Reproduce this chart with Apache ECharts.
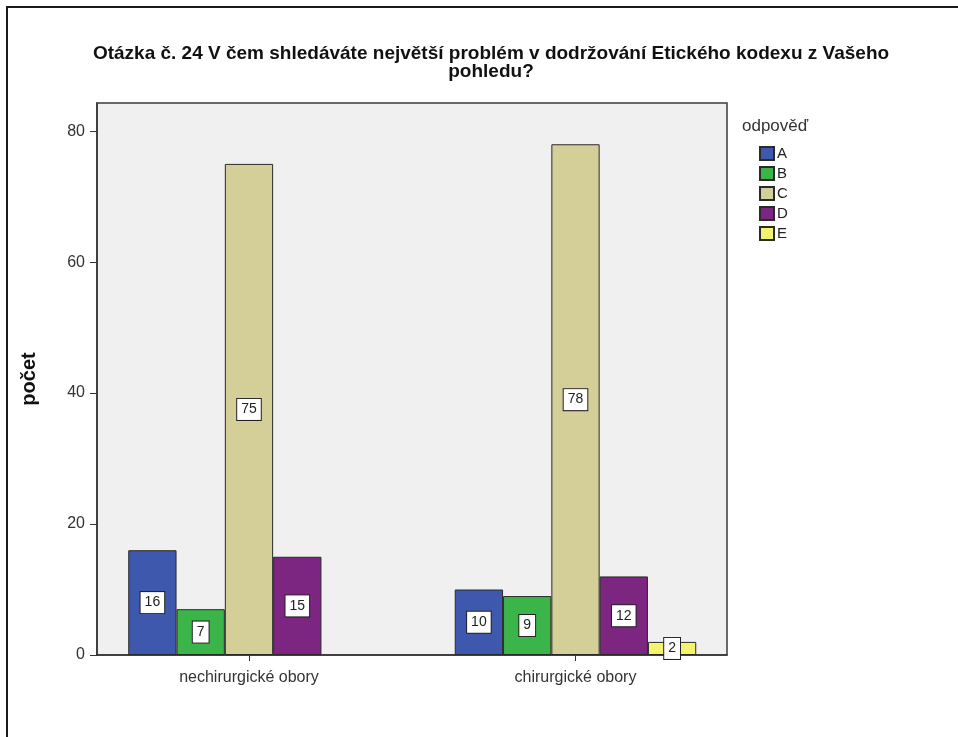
<!DOCTYPE html>
<html>
<head>
<meta charset="utf-8">
<script src="https://cdn.jsdelivr.net/npm/echarts@6/dist/echarts.min.js"></script>
<style>
  html, body { margin: 0; padding: 0; background: #fff; }
  #chart { width: 958px; height: 737px; }
</style>
</head>
<body>
<div id="chart"></div>
<script>
// Answer counts per field group (question 24)
const categories = ['nechirurgické obory', 'chirurgické obory'];
const answers = ['A', 'B', 'C', 'D', 'E'];
const countA = [16, 10];
const countB = [7, 9];
const countC = [75, 78];
const countD = [15, 12];
const countE = [0, 2];
const yTicks = [0, 20, 40, 60, 80];

const seriesValues = [countA, countB, countC, countD, countE];
const colors = ['#3d58ad', '#3bb54a', '#d4cf98', '#7c2681', '#f4f46c'];

const FONT = '"Liberation Sans", Arial, sans-serif';

const chart = echarts.init(document.getElementById('chart'), null, { renderer: 'canvas' });

const series = answers.map((name, i) => ({
  name: name,
  type: 'bar',
  barWidth: 48.3,
  barGap: '0%',
  itemStyle: { color: colors[i], borderColor: '#2a2a2a', borderWidth: 1 },
  label: {
    show: true,
    position: 'inside',
    fontFamily: FONT,
    fontSize: 14,
    color: '#222',
    backgroundColor: '#fff',
    borderColor: '#222',
    borderWidth: 1,
    padding: [4, 4, 3, 4],
    formatter: p => p.value[1]
  },
  data: seriesValues[i].map((v, c) => ({
    value: [c, v],
    label: { show: v > 0 },
    itemStyle: v > 0 ? {} : { borderWidth: 0 }
  }))
}));

chart.setOption({
  animation: false,
  backgroundColor: '#fff',
  title: [{
    text: 'Otázka č. 24 V čem shledáváte největší problém v dodržování Etického kodexu z Vašeho\npohledu?',
    left: 486,
    top: 40,
    textAlign: 'center',
    textStyle: { fontFamily: FONT, fontSize: 19, fontWeight: 'bold', color: '#111', lineHeight: 18 }
  }, {
    text: 'odpověď',
    left: 737,
    top: 113,
    textStyle: { fontFamily: FONT, fontSize: 17, fontWeight: 'normal', color: '#333' }
  }],
  legend: {
    orient: 'vertical',
    left: 754,
    top: 141,
    icon: 'rect',
    itemWidth: 14,
    itemHeight: 13,
    itemGap: 5,
    selectedMode: false,
    textStyle: { fontFamily: FONT, fontSize: 15, color: '#222', padding: [0, 0, 0, -2] },
    data: answers
  },
  grid: {
    left: 97, right: 231, top: 103, bottom: 82,
    show: true,
    backgroundColor: '#f0f0f0',
    borderColor: '#3a3a3a',
    borderWidth: 1.5
  },
  xAxis: {
    type: 'value',
    min: -0.4655,
    max: 1.464,
    axisLine: { show: true, onZero: false, lineStyle: { color: '#333', width: 1.5 } },
    axisTick: { show: true, length: 6, customValues: [0, 1], lineStyle: { color: '#333' } },
    axisLabel: {
      customValues: [0, 1],
      formatter: v => categories[Math.round(v)],
      fontFamily: FONT, fontSize: 16, color: '#333', margin: 15
    },
    splitLine: { show: false }
  },
  yAxis: {
    type: 'value',
    min: 0,
    max: 84.3,
    name: 'počet',
    nameLocation: 'middle',
    nameRotate: 90,
    nameGap: 58,
    nameTextStyle: { fontFamily: FONT, fontSize: 20, fontWeight: 'bold', color: '#111' },
    axisLine: { show: true, onZero: false, lineStyle: { color: '#333', width: 1.5 } },
    axisTick: { show: true, length: 7, customValues: yTicks, lineStyle: { color: '#333' } },
    axisLabel: {
      customValues: yTicks,
      fontFamily: FONT, fontSize: 16, color: '#333', margin: 12
    },
    splitLine: { show: false }
  },
  graphic: [{
    type: 'rect',
    shape: { x: 7, y: 7, width: 1200, height: 1200 },
    style: { fill: 'none', stroke: '#1a1a1a', lineWidth: 2 },
    silent: true
  }],
  series: series
});
</script>
</body>
</html>
